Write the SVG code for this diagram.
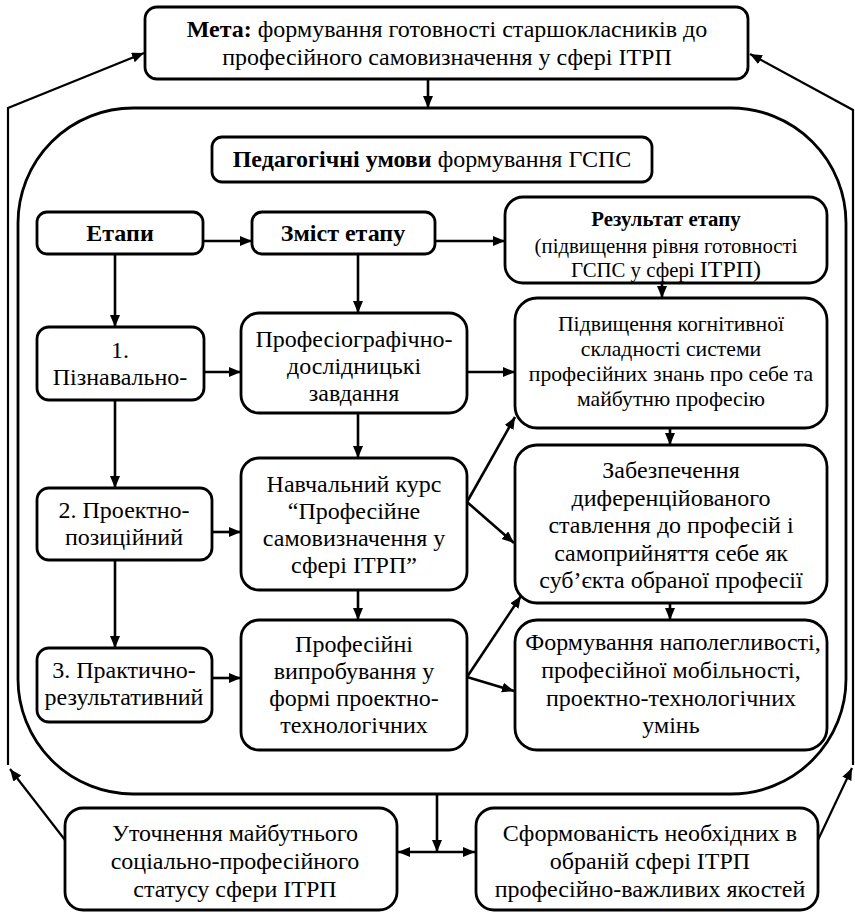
<svg xmlns="http://www.w3.org/2000/svg" width="855" height="912" viewBox="0 0 855 912">
<defs>
<marker id="ah" markerUnits="userSpaceOnUse" markerWidth="14" markerHeight="12" refX="12" refY="5" orient="auto-start-reverse" viewBox="0 0 14 12">
<path d="M0,0 L12,5 L0,10 z" fill="#000"/>
</marker>
<style>
.b{fill:#fff;stroke:#000;stroke-width:2.8}
.t{font-family:'Liberation Serif','Times New Roman',serif;font-size:24px;fill:#000;text-anchor:middle}
.s{font-size:21.7px}
.r{font-size:20.8px}
.bd{font-weight:bold}
.c{fill:none;stroke:#000;stroke-width:2.6;marker-end:url(#ah)}
.f{fill:none;stroke:#000;stroke-width:2.2}
</style>
</defs>
<rect width="855" height="912" fill="#fff"/>

<g id="region"><rect x="18" y="108" width="828" height="686" rx="115" ry="115" fill="none" stroke="#000" stroke-width="2.8"/></g>

<g id="connectors">
<path class="c" d="M428,79 L428,108"/>
<path class="c" d="M203,241 L252,241"/>
<path class="c" d="M435,241 L505,241"/>
<path class="c" d="M115,254 L115,327"/>
<path class="c" d="M358,254 L358,313"/>
<path class="c" d="M662,283 L662,298"/>
<path class="c" d="M204,372 L241,372"/>
<path class="c" d="M467,372 L515,372"/>
<path class="c" d="M115,400 L115,488"/>
<path class="c" d="M358,413 L358,458"/>
<path class="c" d="M212,532 L241,532"/>
<path class="c" d="M467,502 L515,417"/>
<path class="c" d="M467,502 L514,543"/>
<path class="c" d="M670,428 L670,445"/>
<path class="c" d="M115,560 L115,648"/>
<path class="c" d="M358,590 L358,620"/>
<path class="c" d="M212,678 L241,678"/>
<path class="c" d="M467,677 L521,596"/>
<path class="c" d="M467,677 L514,691"/>
<path class="c" d="M670,603 L670,620"/>
<path class="c" d="M437,794 L437,852"/>
<path class="c" d="M398,852 L475,852" style="marker-start:url(#ah)"/>
<path class="f" d="M65,840 L10,769" style="marker-end:url(#ah)"/>
<path class="f" d="M8,765 L8,108 L144,53" style="marker-end:url(#ah)"/>
<path class="f" d="M818,840 L852,768" style="marker-end:url(#ah)"/>
<path class="f" d="M853,765 L853,110 L750,54" style="marker-end:url(#ah)"/>
</g>

<g id="goal"><rect class="b" x="145" y="7" width="603" height="72" rx="12"/>
<text class="t" x="447" y="37"><tspan class="bd">Мета:</tspan> формування готовності старшокласників до</text>
<text class="t" x="447" y="65">професійного самовизначення у сфері ІТРП</text></g>

<g id="conditions"><rect class="b" x="212" y="137" width="440" height="45" rx="10"/>
<text class="t" x="432" y="167"><tspan class="bd">Педагогічні умови</tspan> формування ГСПС</text></g>

<g id="stages"><rect class="b" x="37" y="212" width="166" height="42" rx="10"/>
<text class="t bd" x="120" y="241">Етапи</text></g>

<g id="content"><rect class="b" x="252" y="212" width="183" height="42" rx="10"/>
<text class="t bd" x="343" y="241">Зміст етапу</text></g>

<g id="result"><rect class="b" x="505" y="197" width="322" height="86" rx="18"/>
<text class="t r bd" x="666" y="226">Результат етапу</text>
<text class="t r" x="666" y="253">(підвищення рівня готовності</text>
<text class="t r" x="666" y="277">ГСПС у сфері <tspan font-size="24">ІТРП)</tspan></text></g>

<g id="stage1"><rect class="b" x="37" y="327" width="167" height="73" rx="12"/>
<text class="t" x="120" y="358">1.</text>
<text class="t" x="120" y="385">Пізнавально-</text></g>

<g id="task1"><rect class="b" x="241" y="313" width="226" height="100" rx="18"/>
<text class="t" x="354" y="347">Професіографічно-</text>
<text class="t" x="354" y="374">дослідницькі</text>
<text class="t" x="354" y="401">завдання</text></g>

<g id="res1"><rect class="b" x="515" y="298" width="312" height="130" rx="22"/>
<text class="t s" x="671" y="331">Підвищення когнітивної</text>
<text class="t s" x="671" y="356">складності системи</text>
<text class="t s" x="671" y="381">професійних знань про себе та</text>
<text class="t s" x="671" y="406">майбутню професію</text></g>

<g id="stage2"><rect class="b" x="37" y="488" width="175" height="72" rx="12"/>
<text class="t" x="124" y="518">2. Проектно-</text>
<text class="t" x="124" y="545">позиційний</text></g>

<g id="task2"><rect class="b" x="241" y="458" width="226" height="132" rx="18"/>
<text class="t" x="354" y="492">Навчальний курс</text>
<text class="t" x="354" y="519">“Професійне</text>
<text class="t" x="354" y="546">самовизначення у</text>
<text class="t" x="354" y="573">сфері ІТРП”</text></g>

<g id="res2"><rect class="b" x="515" y="445" width="312" height="158" rx="22"/>
<text class="t" x="671" y="478">Забезпечення</text>
<text class="t" x="671" y="506">диференційованого</text>
<text class="t" x="671" y="533">ставлення до професій і</text>
<text class="t" x="671" y="561">самоприйняття себе як</text>
<text class="t" x="671" y="588">суб’єкта обраної професії</text></g>

<g id="stage3"><rect class="b" x="37" y="648" width="175" height="74" rx="12"/>
<text class="t" x="124" y="678">3. Практично-</text>
<text class="t" x="124" y="705">результативний</text></g>

<g id="task3"><rect class="b" x="241" y="620" width="226" height="130" rx="18"/>
<text class="t" x="354" y="652">Професійні</text>
<text class="t" x="354" y="679">випробування у</text>
<text class="t" x="354" y="706">формі проектно-</text>
<text class="t" x="354" y="733">технологічних</text></g>

<g id="res3"><rect class="b" x="515" y="620" width="312" height="130" rx="22"/>
<text class="t" x="673" y="650" font-size="22.5">Формування наполегливості,</text>
<text class="t" x="671" y="678">професійної мобільності,</text>
<text class="t" x="671" y="706">проектно-технологічних</text>
<text class="t" x="671" y="733">умінь</text></g>

<g id="out1"><rect class="b" x="65" y="808" width="332" height="102" rx="18"/>
<text class="t" x="235" y="841">Уточнення майбутнього</text>
<text class="t" x="235" y="869">соціально-професійного</text>
<text class="t" x="235" y="897">статусу сфери ІТРП</text></g>

<g id="out2"><rect class="b" x="476" y="808" width="342" height="102" rx="18"/>
<text class="t" x="650" y="841">Сформованість необхідних в</text>
<text class="t" x="650" y="869">обраній сфері ІТРП</text>
<text class="t" x="650" y="897">професійно-важливих якостей</text></g>
</svg>
